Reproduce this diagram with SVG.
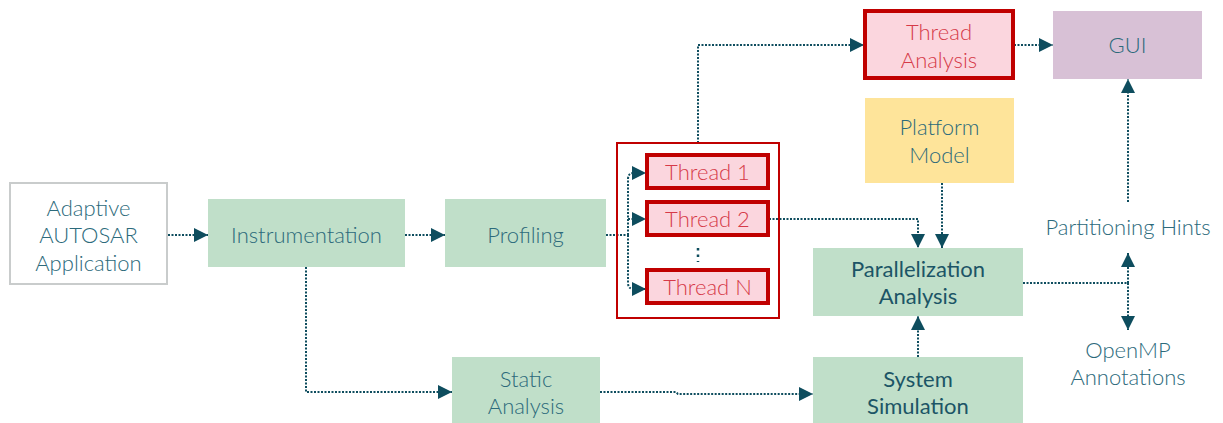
<svg xmlns="http://www.w3.org/2000/svg" width="1223" height="423" viewBox="0 0 1223 423">
  <defs>
    <marker id="arr" viewBox="0 0 10 10" refX="10" refY="5" markerWidth="14" markerHeight="14" markerUnits="userSpaceOnUse" orient="auto">
      <path d="M0,0 L10,5 L0,10 z" fill="#0e4d5e"/>
    </marker>
    <style>
      .lbl { font-family: Lato, "Open Sans", "Liberation Sans", sans-serif; font-size: 22px; font-weight: 300; text-anchor: middle; fill: #2c6a7b; }
      .dark { fill: #1c5566; font-weight: 400; }
      .red { fill: #d63a48; }
      .green { fill: #c0dfc9; }
      .thread { fill: #fbd6de; stroke: #c00000; stroke-width: 4; }
      .con { fill: none; stroke: #0e4d5e; stroke-width: 2; stroke-dasharray: 2 1.5; }
    </style>
  </defs>

  <rect width="1223" height="423" fill="#ffffff"/>

  <g id="connectors">
    <path class="con" d="M168,235 H208" marker-end="url(#arr)"/>
    <path class="con" d="M405,235 H445" marker-end="url(#arr)"/>
    <path class="con" d="M606,235 H628"/>
    <path class="con" d="M628,235 V179 Q628,173 634,173 H646" marker-end="url(#arr)"/>
    <path class="con" d="M628,219 H646" marker-end="url(#arr)"/>
    <path class="con" d="M628,235 V283 Q628,289 634,289 H646" marker-end="url(#arr)"/>
    <path class="con" d="M698,143 V45 H864" marker-end="url(#arr)"/>
    <path class="con" d="M1014,45 H1053" marker-end="url(#arr)"/>
    <path class="con" d="M769,219 H918 V248" marker-end="url(#arr)"/>
    <path class="con" d="M942,183 V248" marker-end="url(#arr)"/>
    <path class="con" d="M918,357 V316" marker-end="url(#arr)"/>
    <path class="con" d="M1023,283 H1128"/>
    <path class="con" d="M1128,283 V253" marker-end="url(#arr)"/>
    <path class="con" d="M1128,283 V330" marker-end="url(#arr)"/>
    <path class="con" d="M1128,202 V79" marker-end="url(#arr)"/>
    <path class="con" d="M306,267 V392 H452" marker-end="url(#arr)"/>
    <path class="con" d="M600,392 H676 L678,394 H813" marker-end="url(#arr)"/>
    <path d="M698,248 V262" fill="none" stroke="#0e4d5e" stroke-width="2.5" stroke-dasharray="2.5 4"/>
  </g>

  <g id="adaptive-app">
    <rect x="10" y="183" width="157" height="101" fill="#ffffff" stroke="#c9cccc" stroke-width="2"/>
    <text class="lbl" x="88.5" y="216">Adaptive</text>
    <text class="lbl" x="88.5" y="243">AUTOSAR</text>
    <text class="lbl" x="88.5" y="271">Application</text>
  </g>

  <g id="instrumentation">
    <rect class="green" x="208" y="199" width="197" height="68"/>
    <text class="lbl" x="306.5" y="243">Instrumentation</text>
  </g>

  <g id="profiling">
    <rect class="green" x="445" y="199" width="161" height="68"/>
    <text class="lbl" x="525.5" y="243">Profiling</text>
  </g>

  <g id="thread-group">
    <rect x="617" y="143" width="162" height="175" fill="none" stroke="#c00000" stroke-width="2"/>
  </g>

  <g id="thread-1">
    <rect class="thread" x="647" y="155" width="121" height="33"/>
    <text class="lbl red" x="707.5" y="180">Thread 1</text>
  </g>

  <g id="thread-2">
    <rect class="thread" x="647" y="202" width="121" height="33"/>
    <text class="lbl red" x="707.5" y="227">Thread 2</text>
  </g>

  <g id="thread-n">
    <rect class="thread" x="647" y="270" width="121" height="33"/>
    <text class="lbl red" x="707.5" y="295">Thread N</text>
  </g>

  <g id="thread-analysis">
    <rect class="thread" x="865" y="11" width="148" height="67"/>
    <text class="lbl red" x="939" y="40">Thread</text>
    <text class="lbl red" x="939" y="68">Analysis</text>
  </g>

  <g id="gui">
    <rect x="1053" y="11" width="149" height="68" fill="#d8c1d6"/>
    <text class="lbl" x="1127.5" y="53">GUI</text>
  </g>

  <g id="platform-model">
    <rect x="865" y="98" width="149" height="85" fill="#fee49a"/>
    <text class="lbl" x="939.5" y="135">Platform</text>
    <text class="lbl" x="939.5" y="163">Model</text>
  </g>

  <g id="parallelization-analysis">
    <rect class="green" x="813" y="248" width="210" height="68"/>
    <text class="lbl dark" x="918" y="277">Parallelization</text>
    <text class="lbl dark" x="918" y="304">Analysis</text>
  </g>

  <g id="partitioning-hints">
    <text class="lbl" x="1128" y="235">Partitioning Hints</text>
  </g>

  <g id="openmp-annotations">
    <text class="lbl" x="1128" y="358">OpenMP</text>
    <text class="lbl" x="1128" y="385">Annotations</text>
  </g>

  <g id="static-analysis">
    <rect class="green" x="452" y="357" width="148" height="66"/>
    <text class="lbl" x="526" y="387">Static</text>
    <text class="lbl" x="526" y="414">Analysis</text>
  </g>

  <g id="system-simulation">
    <rect class="green" x="813" y="357" width="210" height="66"/>
    <text class="lbl dark" x="918" y="387">System</text>
    <text class="lbl dark" x="918" y="414">Simulation</text>
  </g>
</svg>
